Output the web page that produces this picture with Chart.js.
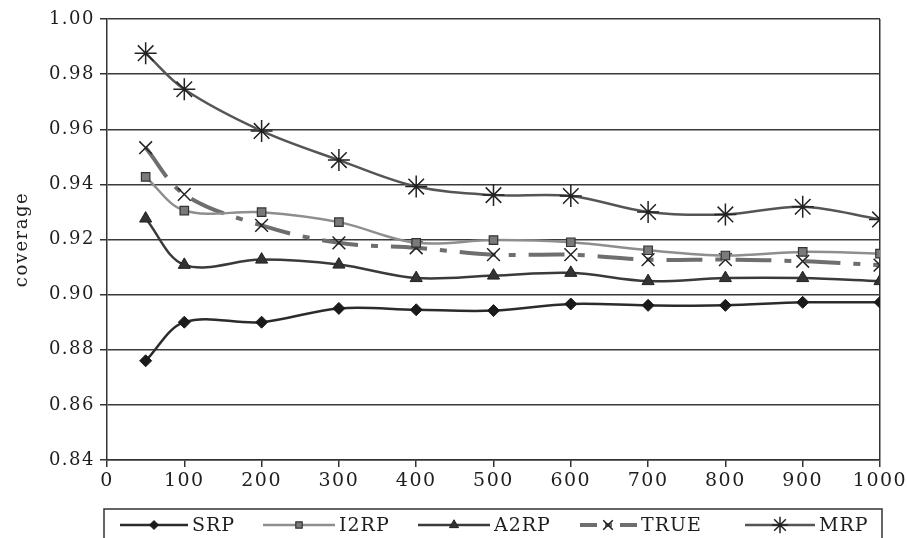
<!DOCTYPE html>
<html>
<head>
<meta charset="utf-8">
<script src="https://cdn.jsdelivr.net/npm/chart.js@4/dist/chart.umd.min.js"></script>
<style>
  html, body { margin: 0; padding: 0; background: #fff; }
  #wrap { width: 907px; height: 538px; }
</style>
</head>
<body>
<div id="wrap"><canvas id="chart" width="907" height="538"></canvas></div>
<script>
const sampleSizes = [50, 100, 200, 300, 400, 500, 600, 700, 800, 900, 1000];
const seriesNames = ["SRP", "I2RP", "A2RP", "TRUE", "MRP"];
const srp  = [0.876, 0.890, 0.890, 0.895, 0.8945, 0.8942, 0.8966, 0.8961, 0.8961, 0.8972, 0.8972];
const i2rp = [0.9427, 0.9305, 0.9299, 0.9263, 0.9188, 0.9198, 0.919, 0.9161, 0.9142, 0.9155, 0.9149];
const a2rp = [0.9276, 0.9108, 0.9127, 0.9109, 0.906, 0.9069, 0.9079, 0.9049, 0.906, 0.906, 0.9049];
const trueCov = [0.9533, 0.9364, 0.9251, 0.9188, 0.917, 0.9145, 0.9145, 0.9127, 0.9127, 0.9121, 0.9107];
const mrp  = [0.9876, 0.9745, 0.9594, 0.9488, 0.9392, 0.9361, 0.9358, 0.930, 0.9291, 0.9319, 0.9273];
const yTicks = ["0.84", "0.86", "0.88", "0.90", "0.92", "0.94", "0.96", "0.98", "1.00"];

const FONT = "'DejaVu Serif', serif";
const INK = "#1e1e1e";
Chart.defaults.font.family = FONT;
Chart.defaults.color = INK;

function pts(vals) {
  return sampleSizes.map((x, i) => ({ x: x, y: vals[i] }));
}

const datasets = [
  { label: seriesNames[0], data: pts(srp), borderColor: "#2b2b2b", borderWidth: 2.5,
    pointStyle: "rectRot", pointRadius: 6, pointBackgroundColor: "#1a1a1a", pointBorderColor: "#1a1a1a", pointBorderWidth: 1 },
  { label: seriesNames[1], data: pts(i2rp), borderColor: "#8e8e8e", borderWidth: 2.5,
    pointStyle: "rect", pointRadius: 6, pointBackgroundColor: "#7a7a7a", pointBorderColor: "#333", pointBorderWidth: 1.2 },
  { label: seriesNames[2], data: pts(a2rp), borderColor: "#3a3a3a", borderWidth: 2.5,
    pointStyle: "triangle", pointRadius: 7, pointBackgroundColor: "#333", pointBorderColor: "#222", pointBorderWidth: 1 },
  { label: seriesNames[3], data: pts(trueCov), borderColor: "#6e6e6e", borderWidth: 4, borderDash: [36, 13, 7, 13],
    pointStyle: "crossRot", pointRadius: 9, pointBackgroundColor: "transparent", pointBorderColor: "#222", pointBorderWidth: 1.5 },
  { label: seriesNames[4], data: pts(mrp), borderColor: "#555", borderWidth: 2.5,
    pointStyle: "star", pointRadius: 11, pointBackgroundColor: "transparent", pointBorderColor: "#222", pointBorderWidth: 1.5 }
];

const spacing = {
  id: "spacing",
  beforeUpdate(c) { c.ctx.letterSpacing = "1.5px"; },
  beforeDraw(c) { c.ctx.letterSpacing = "1.5px"; }
};

// legend box at the bottom, Excel style: line + marker + name
const boxLegend = {
  id: "boxLegend",
  afterDraw(c) {
    const ctx = c.ctx;
    const starts = [120, 263, 418, 580, 745];
    const lens = [68, 72, 72, 57, 70];
    const dashes = [[], [], [], [17, 8, 7, 8], []];
    const y = 525;
    ctx.save();
    ctx.strokeStyle = "#333";
    ctx.lineWidth = 1.5;
    ctx.setLineDash([]);
    ctx.strokeRect(104, 509, 778, 40);
    c.data.datasets.forEach((ds, i) => {
      const x0 = starts[i];
      ctx.save();
      ctx.strokeStyle = ds.borderColor;
      ctx.lineWidth = ds.borderWidth;
      ctx.setLineDash(dashes[i]);
      ctx.beginPath();
      ctx.moveTo(x0, y);
      ctx.lineTo(x0 + lens[i], y);
      ctx.stroke();
      ctx.restore();
      ctx.save();
      ctx.fillStyle = ds.pointBackgroundColor;
      ctx.strokeStyle = ds.pointBorderColor;
      ctx.lineWidth = ds.pointBorderWidth;
      Chart.helpers.drawPoint(ctx, {
        pointStyle: ds.pointStyle, radius: ds.pointRadius * 0.75, rotation: 0,
        borderWidth: ds.pointBorderWidth
      }, x0 + (i === 3 ? 28 : lens[i] / 2), y);
      ctx.restore();
      ctx.fillStyle = INK;
      ctx.font = "19px " + FONT;
      ctx.letterSpacing = "1px";
      ctx.textBaseline = "middle";
      ctx.fillText(ds.label, x0 + lens[i] + 4, y + 1);
    });
    ctx.restore();
  }
};

new Chart(document.getElementById("chart"), {
  type: "line",
  data: { datasets: datasets },
  plugins: [spacing, boxLegend],
  options: {
    responsive: false,
    animation: false,
    layout: { padding: { left: 0, top: 19, right: 27, bottom: 0 } },
    elements: { line: { tension: 0.35, fill: false } },
    plugins: { legend: { display: false }, tooltip: { enabled: false } },
    scales: {
      x: {
        type: "linear", min: 0, max: 1000,
        afterFit(s) { s.height = 78; s.paddingRight = 0; s.paddingLeft = 0; },
        ticks: { stepSize: 100, font: { size: 19 }, color: INK, padding: 3, maxRotation: 0,
          callback: (v) => String(v) },
        grid: {
          color: (ctx) => ctx.tick && ctx.tick.value === 1000 ? "#333" : "transparent",
          tickColor: "#333", tickLength: 7, lineWidth: 1.5
        },
        border: { color: "#333", width: 1.5 }
      },
      y: {
        min: 0.84, max: 1.0,
        afterFit(s) { s.width = 107; },
        ticks: { stepSize: 0.02, font: { size: 18 }, color: INK, padding: 5,
          callback: (v) => yTicks.find((t) => Math.abs(parseFloat(t) - v) < 1e-6) || "" },
        grid: { color: "#3a3a3a", tickColor: "#333", tickLength: 7, lineWidth: 1.5 },
        border: { color: "#333", width: 1.5 },
        title: { display: true, text: "coverage", font: { size: 18 }, color: INK, padding: { top: 12, bottom: 4 } }
      }
    }
  }
});
</script>
</body>
</html>
